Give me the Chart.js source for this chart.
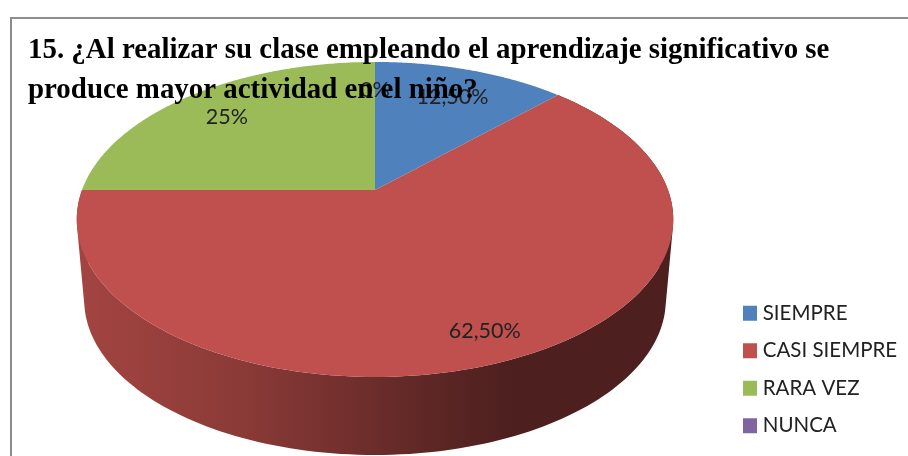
<!DOCTYPE html>
<html>
<head>
<meta charset="utf-8">
<script src="https://cdn.jsdelivr.net/npm/chart.js@4"></script>
<style>
html,body{margin:0;padding:0;background:#fff;width:908px;height:456px;overflow:hidden}
#frame{position:absolute;left:10px;top:17px;right:-4px;bottom:-4px;border-left:2px solid #8c8c8c;border-top:2px solid #8c8c8c}
#c{position:absolute;left:0;top:0;filter:blur(0.45px)}
</style>
</head>
<body>
<div id="frame"></div>
<canvas id="c" width="908" height="456"></canvas>
<script>
const categories = ['SIEMPRE', 'CASI SIEMPRE', 'RARA VEZ', 'NUNCA'];
const values = [12.5, 62.5, 25, 0];
const valueLabels = ['12,50%', '62,50%', '25%', '0%'];
const colors = ['#4F81BD', '#C0504D', '#9BBB59', '#8064A2'];
const titleLines = ['15. ¿Al realizar su clase empleando el aprendizaje significativo se',
                    'produce mayor actividad en el niño?'];

// Perspective tilt applied to the library's circular arcs
const TILT = {k: -0.187, sx: 293 / 128, sy: 152 / 128, depth: 81, wallX: 0.975, wallY: 0.984, labelAt: 0.81, labelDrop: 4};
const WALL_SHADE = [[0.09, 0.85], [0.27, 0.72], [0.41, 0.56], [0.5, 0.46], [0.56, 0.40], [1, 0.40]];

function project(arc, a, wall) {
  const u = Math.cos(a), v = Math.sin(a), d = 1 + TILT.k * v;
  const X = TILT.sx * arc.outerRadius * u / d;
  const Y = TILT.sy * arc.outerRadius * v / d;
  return wall ? {x: arc.x + X * TILT.wallX, y: arc.y + TILT.depth + Y * TILT.wallY}
              : {x: arc.x + X, y: arc.y + Y};
}
function rimPoints(arc, wall) {
  const n = 160, pts = [];
  for (let i = 0; i <= n; i++) pts.push(project(arc, arc.startAngle + (arc.endAngle - arc.startAngle) * i / n, wall));
  return pts;
}
function shade(hex, f) {
  const n = parseInt(hex.slice(1), 16);
  return `rgb(${Math.round((n >> 16 & 255) * f)},${Math.round((n >> 8 & 255) * f)},${Math.round((n & 255) * f)})`;
}

const tiltedPie = {
  id: 'tiltedPie',
  afterLayout(chart) {
    chart.titleBlock.right = chart.width;
    const lg = chart.legend;
    lg.left = 730.5; lg.right = chart.width; lg.top = 286; lg.bottom = chart.height;
  },
  beforeDraw(chart) {
    const ctx = chart.ctx, arcs = chart.getDatasetMeta(0).data;
    ctx.save();
    arcs.forEach((arc, i) => {
      const mid = (arc.startAngle + arc.endAngle) / 2;
      if (arc.endAngle === arc.startAngle || Math.sin(mid) < 0) return;
      const top = rimPoints(arc, false), bot = rimPoints(arc, true);
      const g = ctx.createLinearGradient(0, 0, chart.width, 0);
      WALL_SHADE.forEach(s => g.addColorStop(s[0], shade(colors[i], s[1])));
      ctx.beginPath();
      // one quad per rim segment so the outline follows the tangent between rims
      for (let j = 0; j < top.length - 1; j++) {
        const a = top[j], b = top[j + 1], c = bot[j + 1], e = bot[j];
        const area = (b.x - a.x) * (c.y - a.y) - (b.y - a.y) * (c.x - a.x);
        const q = area >= 0 ? [a, b, c, e] : [e, c, b, a];
        ctx.moveTo(q[0].x, q[0].y);
        ctx.lineTo(q[1].x, q[1].y);
        ctx.lineTo(q[2].x, q[2].y);
        ctx.lineTo(q[3].x, q[3].y);
        ctx.closePath();
      }
      ctx.fillStyle = g;
      ctx.fill();
    });
    arcs.forEach((arc, i) => {
      if (arc.endAngle === arc.startAngle) return;
      ctx.beginPath();
      ctx.moveTo(arc.x, arc.y);
      rimPoints(arc, false).forEach(p => ctx.lineTo(p.x, p.y));
      ctx.closePath();
      ctx.fillStyle = colors[i];
      ctx.fill();
    });
    ctx.font = '21.5px Lato';
    ctx.fillStyle = '#222';
    ctx.textAlign = 'center';
    ctx.textBaseline = 'middle';
    arcs.forEach((arc, i) => {
      const rim = project(arc, (arc.startAngle + arc.endAngle) / 2, false);
      ctx.fillText(valueLabels[i], arc.x + (rim.x - arc.x) * TILT.labelAt, arc.y + (rim.y - arc.y) * TILT.labelAt + TILT.labelDrop);
    });
    ctx.restore();
  },
  beforeDatasetDraw() { return false; }
};

new Chart(document.getElementById('c'), {
  type: 'pie',
  data: {
    labels: categories,
    datasets: [{data: values, backgroundColor: colors, borderWidth: 0}]
  },
  plugins: [tiltedPie],
  options: {
    responsive: false,
    animation: false,
    devicePixelRatio: 1,
    radius: 128,
    layout: {padding: {left: 28, right: 186, top: 0, bottom: 76}},
    plugins: {
      tooltip: {enabled: false},
      title: {
        display: true,
        text: titleLines,
        align: 'start',
        color: '#000',
        font: {family: 'Liberation Serif', size: 28.9, weight: 'bold', lineHeight: 40 / 28.9},
        padding: {top: 31, bottom: -111}
      },
      legend: {
        position: 'chartArea',
        align: 'start',
        labels: {
          color: '#222',
          font: {family: 'Lato', size: 20.5},
          boxWidth: 5,
          boxHeight: 6,
          padding: 17,
          generateLabels(chart) {
            return Chart.overrides.pie.plugins.legend.labels.generateLabels(chart)
              .map(it => Object.assign(it, {strokeStyle: it.fillStyle, lineWidth: 9, lineJoin: 'miter'}));
          }
        }
      }
    }
  }
});
</script>
</body>
</html>
